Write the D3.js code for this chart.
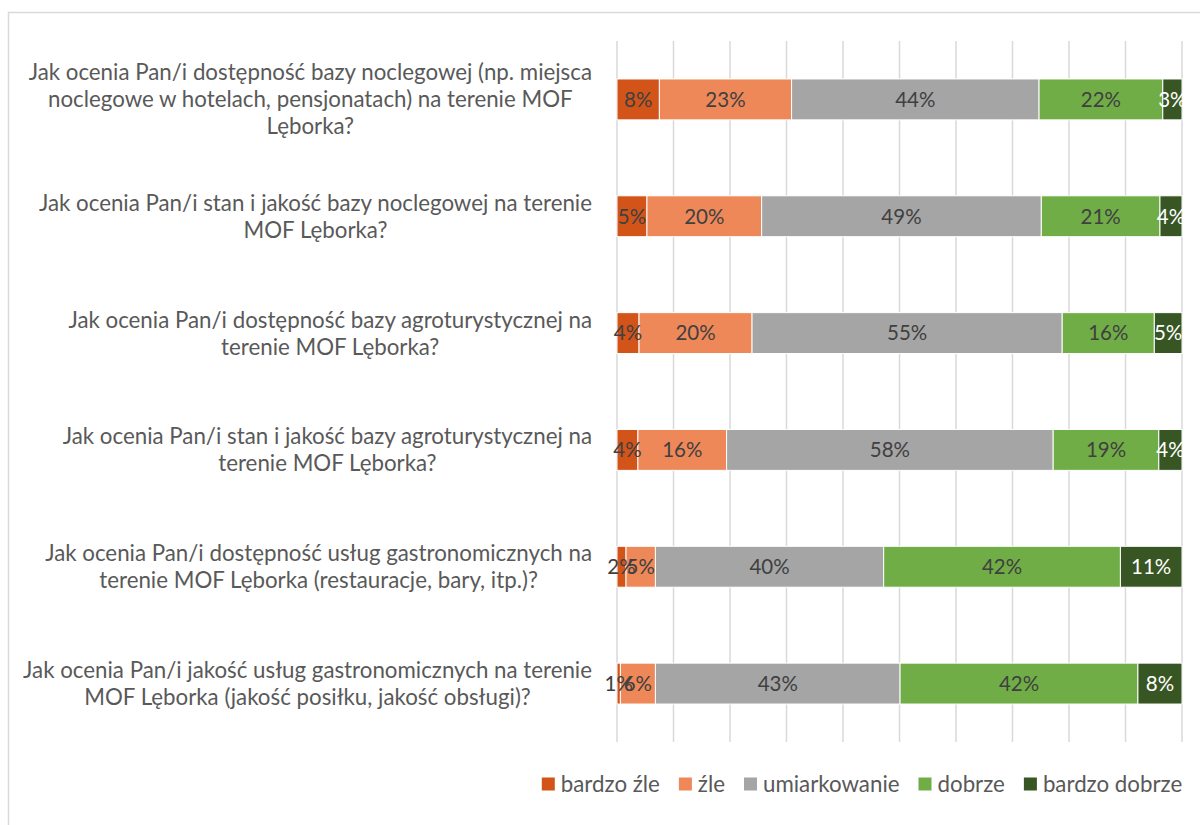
<!DOCTYPE html>
<html>
<head>
<meta charset="utf-8">
<script src="https://cdn.jsdelivr.net/npm/d3@7"></script>
<style>
  body { margin: 0; background: #fff; }
  svg { display: block; font-family: Lato, 'Open Sans', sans-serif; }
</style>
</head>
<body>
<script>
const width = 1200
const height = 825

// question labels, already split into lines as on the chart
const questions = [
  ['Jak ocenia Pan/i dostępność bazy noclegowej (np. miejsca', 'noclegowe w hotelach, pensjonatach) na terenie MOF', 'Lęborka?'],
  ['Jak ocenia Pan/i stan i jakość bazy noclegowej na terenie', 'MOF Lęborka?'],
  ['Jak ocenia Pan/i dostępność bazy agroturystycznej na', 'terenie MOF Lęborka?'],
  ['Jak ocenia Pan/i stan i jakość bazy agroturystycznej na', 'terenie MOF Lęborka?'],
  ['Jak ocenia Pan/i dostępność usług gastronomicznych na', 'terenie MOF Lęborka (restauracje, bary, itp.)?'],
  ['Jak ocenia Pan/i jakość usług gastronomicznych na terenie', 'MOF Lęborka (jakość posiłku, jakość obsługi)?']
]

const answers = ['bardzo źle', 'źle', 'umiarkowanie', 'dobrze', 'bardzo dobrze']

// shares in %, one array per answer, in question order
const bardzoZle = [7.5, 5.3, 3.9, 3.7, 1.6, 0.6]
const zle = [23.4, 20.3, 20.0, 15.7, 5.2, 6.2]
const umiarkowanie = [43.8, 49.5, 54.9, 57.8, 40.4, 43.3]
const dobrze = [21.9, 21.0, 16.3, 18.7, 41.9, 42.1]
const bardzoDobrze = [3.4, 3.9, 4.9, 4.1, 10.9, 7.8]

const ticks = [0, 10, 20, 30, 40, 50, 60, 70, 80, 90, 100]

const colors = ['#D35419', '#EF8859', '#A5A5A5', '#70AD47', '#375623']
const labelColors = ['#404040', '#404040', '#404040', '#404040', '#ffffff']

const table = questions.map(function (q, i) {
  return {
    id: i,
    'bardzo źle': bardzoZle[i],
    'źle': zle[i],
    'umiarkowanie': umiarkowanie[i],
    'dobrze': dobrze[i],
    'bardzo dobrze': bardzoDobrze[i]
  }
})

const x = d3.scaleLinear().domain([0, 100]).range([617, 1182])
const y = d3.scaleBand().domain(d3.range(questions.length)).range([41, 742]).paddingInner(0.65).paddingOuter(0.325)
const color = d3.scaleOrdinal().domain(answers).range(colors)

const svg = d3.select('body').append('svg')
  .attr('width', width)
  .attr('height', height)

// chart frame
svg.append('rect')
  .attr('x', 8.5).attr('y', 12.5)
  .attr('width', 1200).attr('height', 830)
  .attr('fill', 'none')
  .attr('stroke', '#D9D9D9')
  .attr('stroke-width', 1.5)

// vertical gridlines
svg.append('g')
  .selectAll('line')
  .data(ticks).enter().append('line')
  .attr('x1', function (d) { return x(d) })
  .attr('x2', function (d) { return x(d) })
  .attr('y1', 41).attr('y2', 742)
  .attr('stroke', '#D9D9D9')
  .attr('stroke-width', 1.5)

const series = d3.stack().keys(answers)(table)

const layer = svg.append('g')
  .selectAll('g')
  .data(series).enter().append('g')
  .attr('fill', function (d) { return color(d.key) })

layer.selectAll('rect')
  .data(function (d) { return d }).enter().append('rect')
  .attr('x', function (d) { return x(d[0]) })
  .attr('width', function (d) { return x(d[1]) - x(d[0]) })
  .attr('y', function (d) { return y(d.data.id) })
  .attr('height', y.bandwidth())
  .attr('stroke', '#fff')
  .attr('stroke-width', 1)

// data labels
svg.append('g')
  .selectAll('g')
  .data(series).enter().append('g')
  .attr('fill', function (d, i) { return labelColors[i] })
  .selectAll('text')
  .data(function (d) { return d }).enter().append('text')
  .attr('x', function (d) { return (x(d[0]) + x(d[1])) / 2 })
  .attr('y', function (d) { return y(d.data.id) + y.bandwidth() / 2 })
  .attr('dy', '0.36em')
  .attr('text-anchor', 'middle')
  .style('font-size', '20.5px')
  .text(function (d) { return Math.round(d[1] - d[0]) + '%' })

// category labels: centred lines, block right-aligned to the axis
const lineHeight = 27
const cats = svg.append('g')
  .selectAll('text')
  .data(questions).enter().append('text')
  .attr('fill', '#595959')
  .attr('text-anchor', 'middle')
  .style('font-size', '22.3px')

cats.each(function (lines, i) {
  const t = d3.select(this)
  const cy = y(i) + y.bandwidth() / 2
  const y0 = cy - (lines.length - 1) * lineHeight / 2
  lines.forEach(function (line, j) {
    t.append('tspan')
      .attr('y', y0 + j * lineHeight)
      .attr('dy', '0.36em')
      .text(line)
  })
  const w = d3.max(t.selectAll('tspan').nodes(), function (n) { return n.getComputedTextLength() })
  t.selectAll('tspan').attr('x', 592 - w / 2)
})

// legend, centred under the plot
const legend = svg.append('g')
  .attr('transform', 'translate(0,784)')
  .style('font-size', '22.3px')

const items = legend.selectAll('g')
  .data(answers).enter().append('g')

items.append('rect')
  .attr('y', -6.5)
  .attr('width', 13).attr('height', 13)
  .attr('fill', function (d) { return color(d) })

items.append('text')
  .attr('x', 19)
  .attr('dy', '0.36em')
  .attr('fill', '#595959')
  .text(function (d) { return d })

const gap = 19
let lx = 0
const offsets = []
items.each(function () {
  offsets.push(lx)
  lx += 19 + d3.select(this).select('text').node().getComputedTextLength() + gap
})
const total = lx - gap
const start = 862 - total / 2
items.attr('transform', function (d, i) { return 'translate(' + (start + offsets[i]) + ',0)' })
</script>
</body>
</html>
